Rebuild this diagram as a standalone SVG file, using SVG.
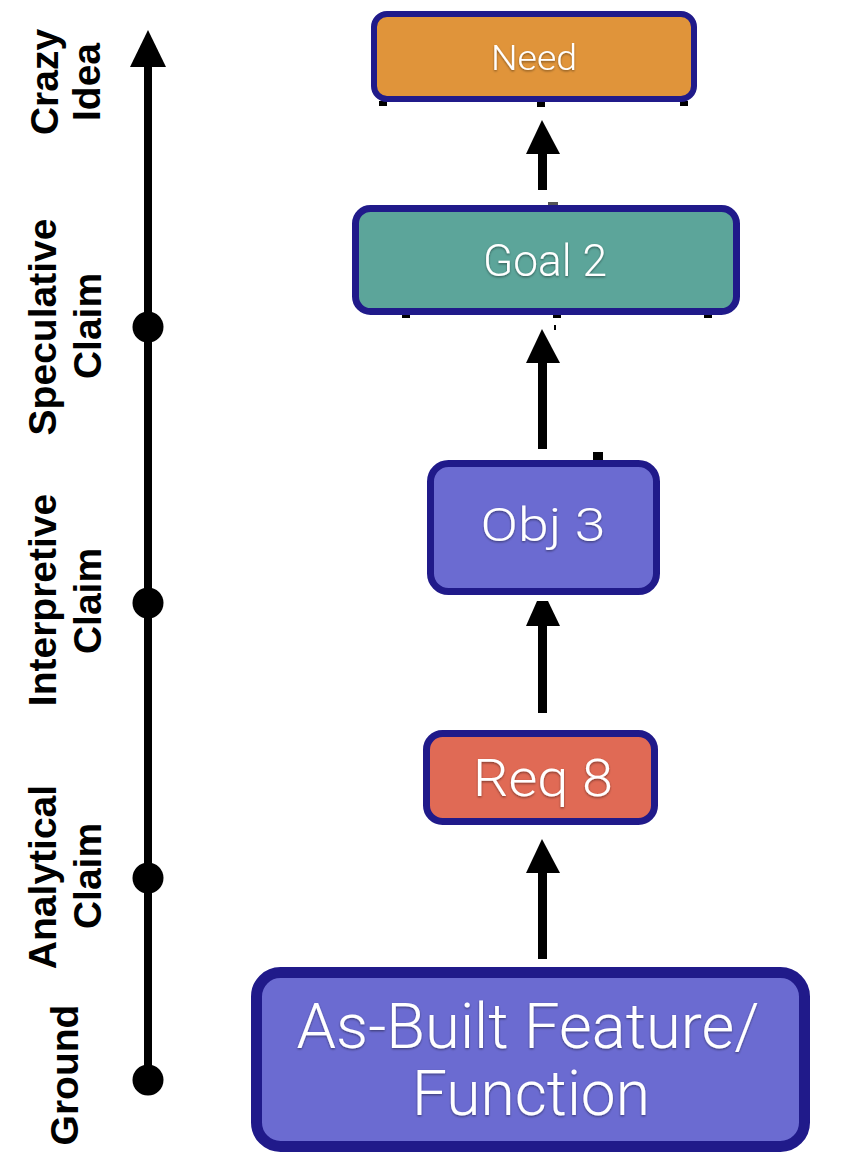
<svg xmlns="http://www.w3.org/2000/svg" width="851" height="1167" viewBox="0 0 851 1167">
<defs>
<style>
.box{stroke:#201a8a;}
.lbl{font-family:Roboto,"Liberation Sans",Arial,sans-serif;font-weight:300;fill:#ffffff;text-anchor:middle;filter:url(#sh);}
.ax{font-family:"Liberation Sans",Arial,sans-serif;font-weight:bold;font-size:39px;fill:#000;text-anchor:middle;}
.mk{fill:#000;}
</style>
<filter id="sh" x="-10%" y="-20%" width="120%" height="150%">
<feDropShadow dx="0" dy="1.2" stdDeviation="1" flood-color="#000" flood-opacity="0.45"/>
</filter>
</defs>
<rect width="851" height="1167" fill="#ffffff"/>

<g id="axis">
<line x1="148" y1="62" x2="148" y2="1080" stroke="#000" stroke-width="8"/>
<polygon points="148,30 166,67 130,67" fill="#000"/>
<circle cx="148" cy="327" r="15.5" fill="#000"/>
<circle cx="148" cy="603" r="15.5" fill="#000"/>
<circle cx="148" cy="878" r="15.5" fill="#000"/>
<circle cx="148" cy="1080" r="15.5" fill="#000"/>
</g>

<g id="axis-labels">
<text class="ax" transform="translate(58,82) rotate(-90)">Crazy</text>
<text class="ax" transform="translate(100,82) rotate(-90)">Idea</text>
<text class="ax" transform="translate(56,327) rotate(-90)">Speculative</text>
<text class="ax" transform="translate(101,326) rotate(-90)">Claim</text>
<text class="ax" transform="translate(56,600) rotate(-90)">Interpretive</text>
<text class="ax" transform="translate(101,601) rotate(-90)">Claim</text>
<text class="ax" transform="translate(56,877) rotate(-90)">Analytical</text>
<text class="ax" transform="translate(101,876) rotate(-90)">Claim</text>
<text class="ax" transform="translate(78,1075) rotate(-90)">Ground</text>
</g>

<g id="connectors">
<polygon points="542,120 560,154 526,154" fill="#000"/>
<rect x="538" y="153" width="9" height="37" fill="#000"/>
<polygon points="542,329 560,363 526,363" fill="#000"/>
<rect x="538" y="362" width="9" height="87" fill="#000"/>
<polygon points="537,601 548,601 560,626 526,626" fill="#000"/>
<rect x="538" y="625" width="9" height="88" fill="#000"/>
<polygon points="542,839 560,873 526,873" fill="#000"/>
<rect x="538" y="872" width="9" height="87" fill="#000"/>
</g>

<g id="marks">
<rect class="mk" x="379" y="101" width="8" height="5"/>
<rect class="mk" x="537" y="101" width="8" height="6"/>
<rect class="mk" x="680" y="101" width="8" height="5"/>
<rect x="548" y="202" width="10" height="3" fill="#555"/>
<rect class="mk" x="402" y="311" width="8" height="7"/>
<rect class="mk" x="553" y="311" width="8" height="7"/>
<rect class="mk" x="704" y="311" width="8" height="7"/>
<rect class="mk" x="554" y="325" width="2" height="5"/>
<rect class="mk" x="593" y="452" width="10" height="9"/>
</g>

<g id="need">
<rect class="box" x="374" y="14" width="320" height="85" rx="13" fill="#e0943a" stroke-width="6"/>
<text class="lbl" x="534" y="70" font-size="35" textLength="86" lengthAdjust="spacingAndGlyphs">Need</text>
</g>

<g id="goal2">
<rect class="box" x="355.5" y="208.5" width="381" height="103" rx="15" fill="#5ca59a" stroke-width="7"/>
<text class="lbl" x="545" y="276" font-size="44" textLength="124" lengthAdjust="spacingAndGlyphs">Goal 2</text>
</g>

<g id="obj3">
<rect class="box" x="430.5" y="463.5" width="226" height="128" rx="18" fill="#6b6bd1" stroke-width="7"/>
<text class="lbl" x="543" y="541" font-size="46" textLength="125" lengthAdjust="spacingAndGlyphs">Obj 3</text>
</g>

<g id="req8">
<rect class="box" x="426.5" y="733.5" width="228" height="88" rx="16" fill="#e06a55" stroke-width="7"/>
<text class="lbl" x="543" y="796" font-size="52" textLength="140" lengthAdjust="spacingAndGlyphs">Req 8</text>
</g>

<g id="asbuilt">
<rect class="box" x="256.5" y="972.5" width="548" height="174" rx="24" fill="#6b6bd1" stroke-width="11"/>
<text class="lbl" x="528" y="1048" font-size="63" textLength="463" lengthAdjust="spacingAndGlyphs">As-Built Feature/</text>
<text class="lbl" x="531" y="1115" font-size="63" textLength="238" lengthAdjust="spacingAndGlyphs">Function</text>
</g>
</svg>
